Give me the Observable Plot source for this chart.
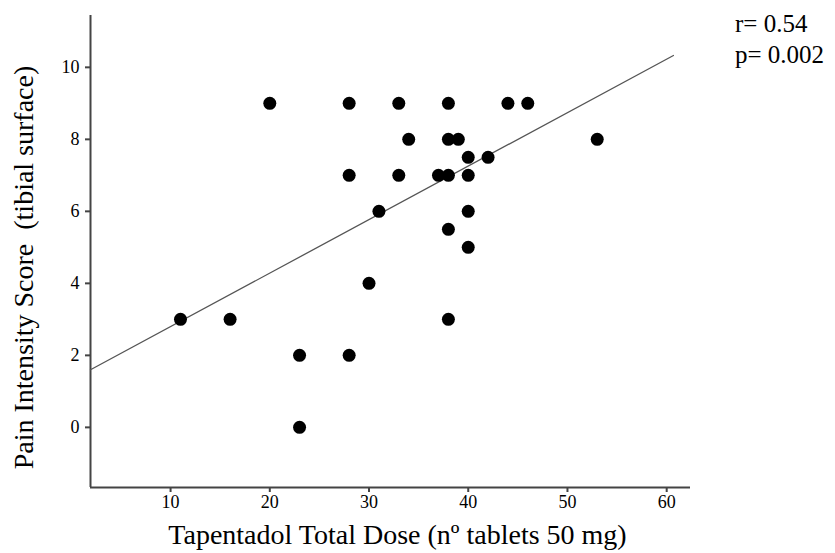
<!DOCTYPE html>
<html>
<head>
<meta charset="utf-8">
<script src="https://cdn.jsdelivr.net/npm/d3@7"></script>
<script src="https://cdn.jsdelivr.net/npm/@observablehq/plot@0.6"></script>
<style>
  html, body { margin: 0; padding: 0; background: #fff; }
  #wrap { position: relative; width: 835px; height: 553px; font-family: "Liberation Serif", "Times New Roman", serif; }
  #stats { position: absolute; left: 735px; top: 8px; font-size: 25px; line-height: 31px; color: #000; }
</style>
</head>
<body>
<div id="wrap">
  <div id="chart"></div>
  <div id="stats"><div>r= 0.54</div><div>p= 0.002</div></div>
</div>
<script>
// Tapentadol total dose (nº tablets 50 mg)
const dose = [11, 16, 20, 23, 23, 28, 28, 28, 30, 31, 33, 33, 34, 37, 38, 38, 38, 38, 38, 39, 40, 40, 40, 40, 42, 44, 46, 53];
// Pain intensity score (tibial surface)
const pain = [3, 3, 9, 2, 0, 9, 7, 2, 4, 6, 9, 7, 8, 7, 9, 8, 7, 5.5, 3, 8, 7.5, 7, 6, 5, 7.5, 9, 9, 8];
// Fit line endpoints
const fitX = [1.93, 60.68];
const fitY = [1.6, 10.33];
const xTicks = [10, 20, 30, 40, 50, 60];
const yTicks = [0, 2, 4, 6, 8, 10];
const xDomain = [1.93, 62.4];
const yDomain = [-1.67, 11.44];
const xLabel = "Tapentadol Total Dose (nº tablets 50 mg)";
const yLabel = "Pain Intensity Score\u00a0 (tibial surface)";

const points = dose.map((d, i) => ({dose: d, pain: pain[i]}));
const fit = fitX.map((x, i) => ({x, y: fitY[i]}));

const chart = Plot.plot({
  width: 835,
  height: 553,
  marginLeft: 90,
  marginRight: 145,
  marginTop: 15,
  marginBottom: 66,
  style: {fontFamily: '"Liberation Serif", "Times New Roman", serif', color: "#000", background: "#fff"},
  x: {domain: xDomain},
  y: {domain: yDomain},
  marks: [
    Plot.axisX(xTicks, {tickSize: 5, tickPadding: 3, fontSize: 18, label: null, stroke: "#444", strokeWidth: 2, fill: "#000"}),
    Plot.axisY(yTicks, {tickSize: 5, tickPadding: 6, fontSize: 18, label: null, stroke: "#444", strokeWidth: 2, fill: "#000"}),
    Plot.ruleX([xDomain[0]], {stroke: "#444", strokeWidth: 2}),
    Plot.ruleY([yDomain[0]], {stroke: "#444", strokeWidth: 2}),
    Plot.line(fit, {x: "x", y: "y", stroke: "#555", strokeWidth: 1.3}),
    Plot.dot(points, {x: "dose", y: "pain", r: 6.5, fill: "#000", stroke: "none"}),
    Plot.text([xLabel], {text: d => d, frameAnchor: "bottom", textAnchor: "middle", dx: 7, dy: 56, fontSize: 28, fill: "#000"}),
    Plot.text([yLabel], {text: d => d, frameAnchor: "left", textAnchor: "middle", rotate: -90, dx: -66, dy: 16, fontSize: 28, fill: "#000"})
  ]
});
document.getElementById("chart").appendChild(chart);
</script>
</body>
</html>
